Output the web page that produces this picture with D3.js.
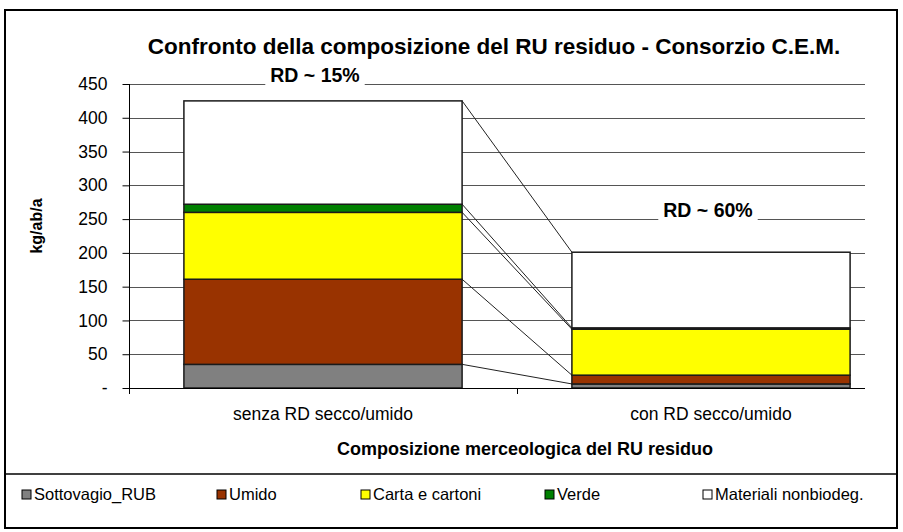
<!DOCTYPE html>
<html>
<head>
<meta charset="utf-8">
<script src="https://cdn.jsdelivr.net/npm/d3@7"></script>
<style>
  html, body { margin: 0; padding: 0; background: #fff; }
  svg { display: block; font-family: "Liberation Sans", Arial, sans-serif; }
</style>
</head>
<body>
<svg id="chart" width="903" height="532"></svg>
<script>
// ---- data ----
const categories = ["senza RD secco/umido", "con RD secco/umido"];
const seriesNames = ["Sottovagio_RUB", "Umido", "Carta e cartoni", "Verde", "Materiali nonbiodeg."];
const seriesColors = ["#808080", "#993300", "#FFFF00", "#008000", "#FFFFFF"];
const sottovagio = [35, 6];
const umido = [126, 13];
const carta = [99, 68];
const verde = [12, 2];
const nonbiodeg = [153, 112];
const rdLabels = ["RD ~ 15%", "RD ~ 60%"];
const rdLabelValues = [450, 250];
const yTicks = [0, 50, 100, 150, 200, 250, 300, 350, 400, 450];
const titleText = "Confronto della composizione del RU residuo - Consorzio C.E.M.";
const xTitle = "Composizione merceologica del RU residuo";
const yTitle = "kg/ab/a";

// ---- build stacked data ----
const seriesValues = [sottovagio, umido, carta, verde, nonbiodeg];
const table = categories.map((c, i) => {
  const row = { cat: c };
  seriesNames.forEach((s, j) => row[s] = seriesValues[j][i]);
  return row;
});
const stacked = d3.stack().keys(seriesNames)(table);

const svg = d3.select("#chart");

// frame
svg.append("rect").attr("x", 5).attr("y", 10).attr("width", 892).attr("height", 518)
  .attr("fill", "#fff").attr("stroke", "#000").attr("stroke-width", 2);
svg.append("line").attr("x1", 5).attr("x2", 897).attr("y1", 474).attr("y2", 474)
  .attr("stroke", "#000").attr("stroke-width", 1.5);

const plotLeft = 129, plotRight = 865, plotTop = 84, plotBottom = 388;
const x = d3.scaleBand().domain(categories).range([plotLeft, 905]).paddingInner(0.283).paddingOuter(0.1415);
const y = d3.scaleLinear().domain([0, 450]).range([plotBottom, plotTop]);

// gridlines
svg.append("g").selectAll("line").data(yTicks.filter(t => t > 0)).join("line")
  .attr("x1", plotLeft).attr("x2", plotRight)
  .attr("y1", d => Math.round(y(d)) + 0.5).attr("y2", d => Math.round(y(d)) + 0.5)
  .attr("stroke", "#555").attr("stroke-width", 1);

// connector lines between stacked boundaries
const bw = x.bandwidth();
stacked.forEach(layer => {
  svg.append("line")
    .attr("x1", x(categories[0]) + bw).attr("y1", y(layer[0][1]))
    .attr("x2", x(categories[1])).attr("y2", y(layer[1][1]))
    .attr("stroke", "#222").attr("stroke-width", 1);
});

// RD labels with white background
const rdOffsets = [-8, -3];
rdLabels.forEach((t, i) => {
  const cx = x(categories[i]) + bw / 2 + rdOffsets[i];
  const cy = y(rdLabelValues[i]);
  const txt = svg.append("text").attr("x", cx).attr("y", cy - 2)
    .attr("text-anchor", "middle").attr("font-weight", "bold").attr("font-size", 19.5)
    .text(t);
  const bb = txt.node().getBBox();
  svg.insert("rect", "text").attr("x", bb.x - 5).attr("y", bb.y).attr("width", bb.width + 10).attr("height", bb.height + 4)
    .attr("fill", "#fff");
});

// bars
svg.append("g").selectAll("g").data(stacked).join("g")
  .attr("fill", (d, i) => seriesColors[i])
  .selectAll("rect").data(d => d).join("rect")
  .attr("x", d => x(d.data.cat))
  .attr("width", bw)
  .attr("y", d => y(d[1]))
  .attr("height", d => y(d[0]) - y(d[1]))
  .attr("stroke", "#1a1a1a").attr("stroke-width", 1.5);

// axes
svg.append("line").attr("x1", plotLeft).attr("x2", plotRight).attr("y1", plotBottom + 0.5).attr("y2", plotBottom + 0.5)
  .attr("stroke", "#000");
svg.append("line").attr("x1", plotLeft + 0.5).attr("x2", plotLeft + 0.5).attr("y1", plotTop).attr("y2", plotBottom + 5)
  .attr("stroke", "#000");
// x ticks at band boundaries
[plotLeft, x(categories[1]) - x.step() * x.paddingInner() / 2].forEach(v => {
  svg.append("line").attr("x1", Math.round(v) + 0.5).attr("x2", Math.round(v) + 0.5)
    .attr("y1", plotBottom).attr("y2", plotBottom + 6).attr("stroke", "#000");
});

const yAxis = d3.axisLeft(y).tickValues(yTicks).tickSize(7).tickPadding(15)
  .tickFormat(d => d === 0 ? "-" : d3.format("d")(d));
const ga = svg.append("g").attr("transform", `translate(${plotLeft + 0.5},0)`).call(yAxis);
ga.select(".domain").remove();
ga.selectAll("text").attr("font-size", 17.5).attr("font-family", "Liberation Sans, Arial, sans-serif").attr("fill", "#000");
ga.selectAll("line").attr("stroke", "#000");

// category labels
svg.append("g").selectAll("text").data(categories).join("text")
  .attr("x", d => x(d) + bw / 2).attr("y", 420)
  .attr("text-anchor", "middle").attr("font-size", 17.5).text(d => d);

// titles
svg.append("text").attr("x", 494).attr("y", 54).attr("text-anchor", "middle")
  .attr("font-weight", "bold").attr("font-size", 22.5).text(titleText);
svg.append("text").attr("x", 525).attr("y", 455).attr("text-anchor", "middle")
  .attr("font-weight", "bold").attr("font-size", 18).text(xTitle);
svg.append("text").attr("transform", "translate(42,226) rotate(-90)").attr("text-anchor", "middle")
  .attr("font-weight", "bold").attr("font-size", 16).text(yTitle);

// legend
const legendX = [22, 217, 361, 545, 703];
const lg = svg.append("g").selectAll("g").data(seriesNames).join("g")
  .attr("transform", (d, i) => `translate(${legendX[i]},500)`);
lg.append("rect").attr("x", 0).attr("y", -10).attr("width", 9).attr("height", 9)
  .attr("fill", (d, i) => seriesColors[i]).attr("stroke", "#000").attr("stroke-width", 1);
lg.append("text").attr("x", 12).attr("y", 0).attr("font-size", 16.5).text(d => d);
</script>
</body>
</html>
